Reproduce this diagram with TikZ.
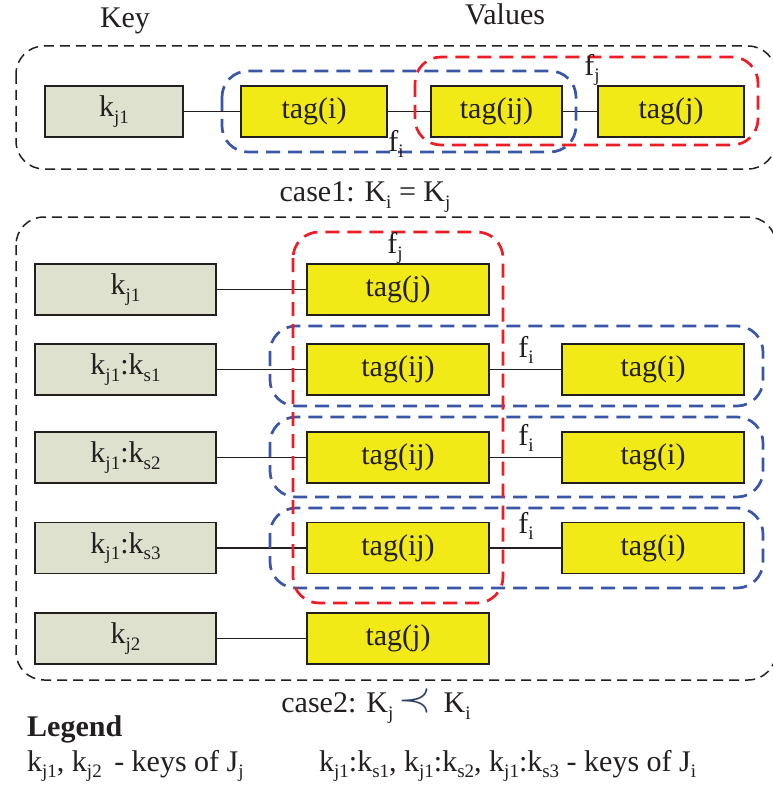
\documentclass[tikz,border=0pt]{standalone}
\usepackage{fontspec}
\setmainfont{Liberation Serif}
\definecolor{keygray}{HTML}{DEE1CD}
\definecolor{tagyellow}{HTML}{F2EA17}
\definecolor{grpblue}{HTML}{3A57A7}
\definecolor{grpred}{HTML}{EE1D25}
\definecolor{ink}{HTML}{231F20}
\newcommand\subt[1]{\raisebox{-0.22em}{\fontsize{19}{19}\selectfont #1}}
\tikzset{
  lbl/.style={font=\fontsize{30}{32}\selectfont, text=ink, inner sep=0pt},
  keybox/.style={lbl, draw=ink, line width=1.1pt, fill=keygray, minimum height=51pt},
  tagbox/.style={lbl, draw=ink, line width=1.1pt, fill=tagyellow, minimum height=51pt},
  link/.style={draw=ink, line width=1.5pt},
  outer/.style={draw=ink, line width=1.5pt, dash pattern=on 10pt off 6pt, rounded corners=28pt},
  grpi/.style={draw=grpblue, line width=2.7pt, dash pattern=on 14pt off 8pt, rounded corners=26pt},
  grpj/.style={draw=grpred, line width=2.7pt, dash pattern=on 14pt off 8pt, rounded corners=26pt},
}
\begin{document}
\begin{tikzpicture}[x=1pt, y=-1pt]
\useasboundingbox (0,0) rectangle (772,789);

% headings
\node[lbl] (hkey) at (125,21) {Key};
\node[lbl] (hval) at (505,14) {Values};

% ---- case 1 ----
\draw[outer] (16,46) rectangle (776,169);
\node[keybox, minimum width=138pt] (c1k) at (114,111.5) {k\subt{j1}};
\node[tagbox, minimum width=146pt] (c1ti) at (314,111.5) {tag(i)};
\node[tagbox, minimum width=131pt] (c1tij) at (496.5,111.5) {tag(ij)};
\node[tagbox, minimum width=146pt] (c1tj) at (671,111.5) {tag(j)};
\draw[link] (c1k) -- (c1ti);
\draw[link] (c1ti) -- (c1tij);
\draw[link] (c1tij) -- (c1tj);
\draw[grpi] (222,71) rectangle (576,152);
\draw[grpj] (415,57) rectangle (758,145);
\node[lbl] (c1fi) at (396,144) {f\subt{i}};
\node[lbl] (c1fj) at (592,70) {f\subt{j}};
\node[lbl] (c1cap) at (365,197) {case1: K\subt{i} = K\subt{j}};

% ---- case 2 ----
\draw[outer] (16,217) rectangle (776,680);
\node[keybox, minimum width=181pt] (k1) at (125.5,289.5) {k\subt{j1}};
\node[keybox, minimum width=181pt] (k2) at (125.5,369.5) {k\subt{j1}:k\subt{s1}};
\node[keybox, minimum width=181pt] (k3) at (125.5,457.5) {k\subt{j1}:k\subt{s2}};
\node[keybox, minimum width=181pt] (k4) at (125.5,548) {k\subt{j1}:k\subt{s3}};
\node[keybox, minimum width=181pt] (k5) at (125.5,638.5) {k\subt{j2}};

\node[tagbox, minimum width=182pt] (t1) at (398,289.5) {tag(j)};
\node[tagbox, minimum width=182pt] (t2) at (398,369.5) {tag(ij)};
\node[tagbox, minimum width=182pt] (t3) at (398,457.5) {tag(ij)};
\node[tagbox, minimum width=182pt] (t4) at (398,548) {tag(ij)};
\node[tagbox, minimum width=182pt] (t5) at (398,638.5) {tag(j)};

\node[tagbox, minimum width=182pt] (u2) at (653,369.5) {tag(i)};
\node[tagbox, minimum width=182pt] (u3) at (653,457.5) {tag(i)};
\node[tagbox, minimum width=182pt] (u4) at (653,548) {tag(i)};

\foreach \r in {1,...,5} {\draw[link] (k\r) -- (t\r);}
\foreach \r in {2,3,4} {\draw[link] (t\r) -- (u\r);}

\draw[grpi] (270,326) rectangle (763,406);
\draw[grpi] (270,417) rectangle (763,497);
\draw[grpi] (270,508) rectangle (763,588);
\draw[grpj] (293,232) rectangle (503,603);

\node[lbl] (c2fj) at (395,248) {f\subt{j}};
\node[lbl] (fi2) at (526,350) {f\subt{i}};
\node[lbl] (fi3) at (526,438) {f\subt{i}};
\node[lbl] (fi4) at (526,526) {f\subt{i}};
\node[lbl] (c2cap) at (376,706) {case2: K\subt{j}\,{\color{grpblue!55!ink}\raisebox{0.05em}{\scalebox{1.7}{$\prec$}}}\, K\subt{i}};

% ---- legend ----
\node[lbl, anchor=west, font=\fontsize{30}{32}\selectfont\bfseries] (leg) at (27,729) {Legend};
\node[lbl, anchor=west] (legj) at (27,766) {k\subt{j1}, k\subt{j2}\, - keys of J\subt{j}};
\node[lbl, anchor=west] (legi) at (319,766) {k\subt{j1}:k\subt{s1}, k\subt{j1}:k\subt{s2}, k\subt{j1}:k\subt{s3} - keys of J\subt{i}};
\end{tikzpicture}
\end{document}
